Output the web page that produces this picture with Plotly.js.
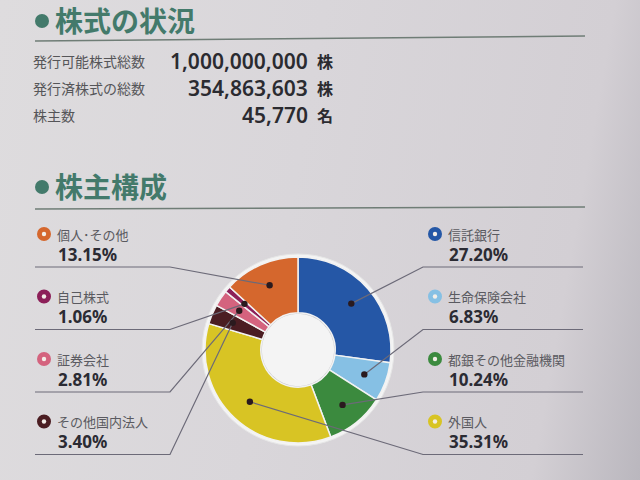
<!DOCTYPE html>
<html>
<head>
<meta charset="utf-8">
<script src="https://cdn.plot.ly/plotly-3.0.1.min.js"></script>
<style>
html,body{margin:0;padding:0;}
body{width:640px;height:480px;overflow:hidden;
background:linear-gradient(100deg,#dedcde 0%,#d9d6da 45%,#d3cfd4 85%,#bab7be 100%);}
#chart{width:640px;height:480px;}
</style>
</head>
<body>
<div id="chart"></div>
<script>
// ---- data ----
const sectionTitles = ['株式の状況', '株主構成'];
const statLabels = ['発行可能株式総数', '発行済株式の総数', '株主数'];
const statValues = ['1,000,000,000', '354,863,603', '45,770'];
const statUnits = ['株', '株', '名'];
const categories = ['信託銀行', '生命保険会社', '都銀その他金融機関', '外国人', 'その他国内法人', '証券会社', '自己株式', '個人･その他'];
const shares = [27.20, 6.83, 10.24, 35.31, 3.40, 2.81, 1.06, 13.15];
const colors = ['#2557a6', '#86c0e4', '#3b8a3e', '#d8c424', '#4b1d22', '#d4637e', '#8c1f58', '#d5672d'];

// ---- layout helpers (pixel -> paper) ----
const W = 640, H = 480;
const px = x => x / W;
const py = y => 1 - y / H;
const CJK = '"Noto Sans CJK JP", "Noto Sans", sans-serif';
const titleGreen = '#437a6b';
const ruleColor = '#6f7d76';
const leaderColor = '#6c6a78';

const annotations = [];
const shapes = [];

function circle(cx, cy, r, fill, line, lw, layer) {
  shapes.push({type: 'circle', xref: 'paper', yref: 'paper',
    x0: px(cx - r), x1: px(cx + r), y0: py(cy + r), y1: py(cy - r),
    fillcolor: fill, line: {color: line || fill, width: lw === undefined ? 0 : lw},
    layer: layer || 'above'});
}
function path(points, color, w) {
  const d = points.map((p, i) => (i ? 'L' : 'M') + px(p[0]) + ',' + py(p[1])).join(' ');
  shapes.push({type: 'path', xref: 'paper', yref: 'paper', path: d,
    line: {color: color, width: w}, layer: 'above'});
}
function text(x, y, t, size, color, anchor, weight, family) {
  annotations.push({xref: 'paper', yref: 'paper', x: px(x), y: py(y), text: t,
    showarrow: false, xanchor: anchor || 'left', yanchor: 'middle',
    font: {size: size, color: color, family: family || CJK, weight: weight || 400}});
}

// section titles
const titleY = [20, 186];
sectionTitles.forEach((t, i) => {
  circle(42, titleY[i] + 1, 7, titleGreen);
  text(53, titleY[i], t, 28, titleGreen, 'left', 700);
});
path([[35, 41], [585, 36]], ruleColor, 1.6);
path([[35, 209], [585, 207]], ruleColor, 1.6);

// stats rows
statLabels.forEach((l, i) => {
  const y = 61 + i * 27;
  text(31, y, l, 14, '#555558', 'left', 400);
  text(310, y, statValues[i], 21, '#2b2b30', 'right', 600, '"Noto Sans", sans-serif');
  text(315, y, statUnits[i], 16, '#2b2b30', 'left', 700);
});

// pie geometry
const cx = 298, cy = 350, R = 93;
const holeFrac = 0.40;
circle(cx, cy, R + 3, '#f4f4f4', '#e6e6e6', 1, 'below');

// dots & labels
const total = shares.reduce((a, b) => a + b, 0);
let cum = 0;
const dots = shares.map(v => {
  const mid = (cum + v / 2) / total * 2 * Math.PI;
  cum += v;
  const r = R * 0.76;
  return [cx + r * Math.sin(mid), cy - r * Math.cos(mid)];
});

const rightIdx = [0, 1, 2, 3];
const leftIdx = [7, 6, 5, 4];
function labelBlock(idx, slot, side) {
  const my = 234 + slot * 62.5;
  const mx = side === 'left' ? 44 : 435;
  circle(mx, my, 7, colors[idx]);
  circle(mx, my, 2.2, '#f3eee8');
  text(mx + 11, my, categories[idx], 13, '#5a5a60', 'left', 400);
  text(mx + 12, my + 20, shares[idx].toFixed(2) + '%', 17, '#2b2b33', 'left', 700, '"Noto Sans", sans-serif');
  const uy = my + 33;
  const d = dots[idx];
  if (side === 'left') path([[35, uy], [170, uy], d], leaderColor, 1.2);
  else path([d, [423, uy], [583, uy]], leaderColor, 1.2);
  circle(d[0], d[1], 3.2, '#2a1a1e');
}
rightIdx.forEach((idx, s) => labelBlock(idx, s, 'right'));
leftIdx.forEach((idx, s) => labelBlock(idx, s, 'left'));

// hole
circle(cx, cy, R * holeFrac, '#f4f4f4', '#c4c4c8', 2, 'below');

const data = [{
  type: 'pie', values: shares, labels: categories, marker: {colors: colors, line: {color: '#f2f2f2', width: 1.5}},
  hole: holeFrac, sort: false, direction: 'clockwise', rotation: 0,
  textinfo: 'none', hoverinfo: 'none', showlegend: false,
  domain: {x: [px(cx - R), px(cx + R)], y: [py(cy + R), py(cy - R)]}
}];

const layout = {
  width: W, height: H, margin: {l: 0, r: 0, t: 0, b: 0},
  paper_bgcolor: 'rgba(0,0,0,0)', plot_bgcolor: 'rgba(0,0,0,0)',
  showlegend: false, annotations: annotations, shapes: shapes
};
Plotly.newPlot('chart', data, layout, {displayModeBar: false, staticPlot: true});
</script>
</body>
</html>
